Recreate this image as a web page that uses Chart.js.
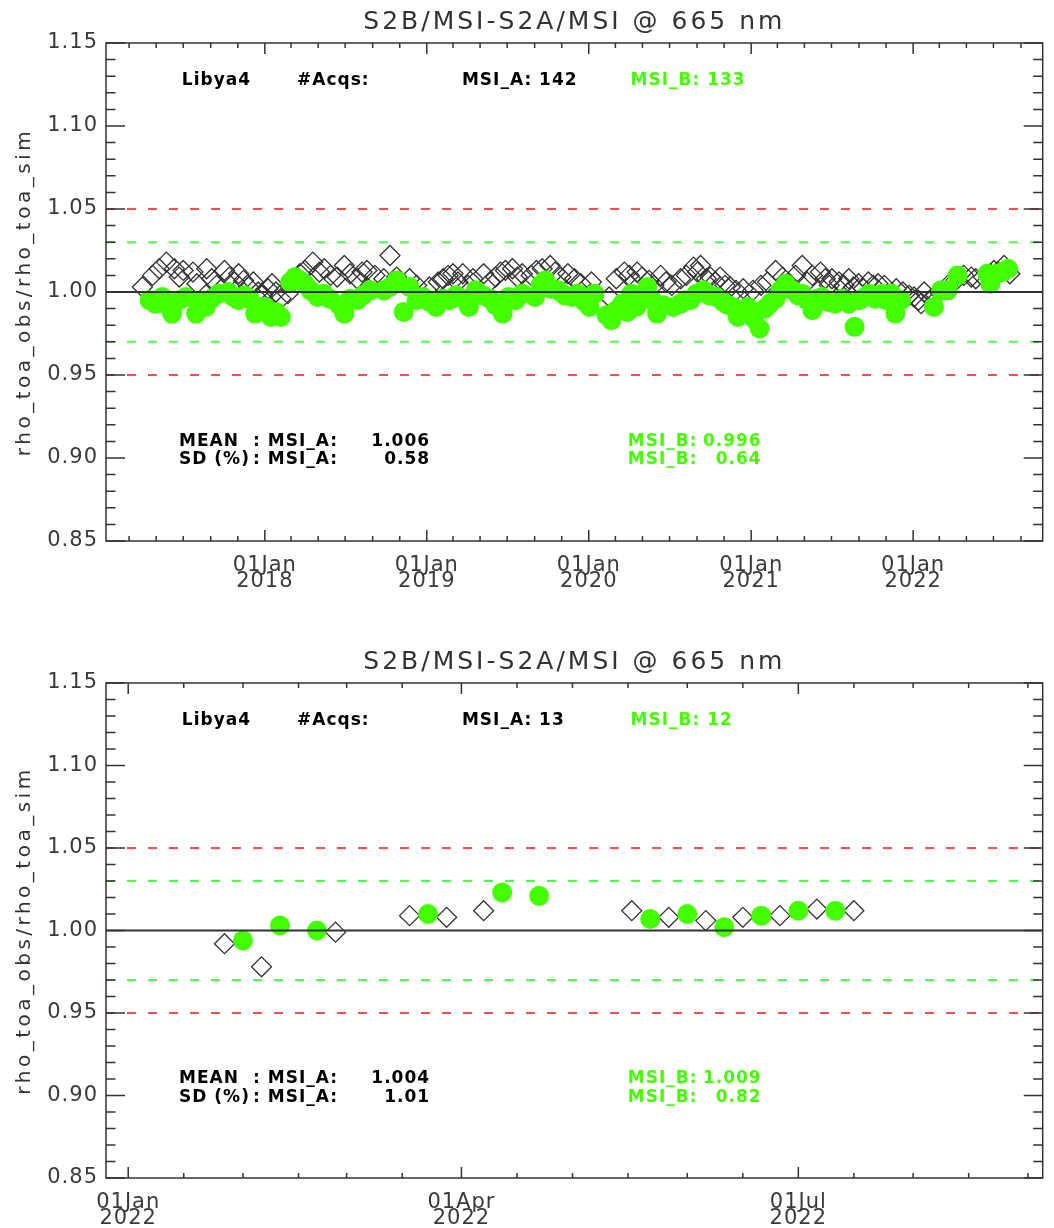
<!DOCTYPE html>
<html>
<head>
<meta charset="utf-8">
<title>S2B/MSI-S2A/MSI @ 665 nm - Libya4</title>
<script src="https://cdn.jsdelivr.net/npm/chart.js@4.4.1/dist/chart.umd.min.js"></script>
<style>
  html, body { margin: 0; padding: 0; background: #fff; }
  canvas { display: block; }
</style>
</head>
<body>
<canvas id="fullChart" width="1054" height="640"></canvas>
<canvas id="recentChart" width="1054" height="588"></canvas>
<script>
// ---- common plot settings ----
var plotTitle = 'S2B/MSI-S2A/MSI @ 665 nm';
var yAxisTitle = 'rho_toa_obs/rho_toa_sim';
var siteName = 'Libya4';
var yTickValues = [0.85, 0.90, 0.95, 1.00, 1.05, 1.10, 1.15];
var unityLevel = 1.00;
var innerLimits = [0.97, 1.03];
var outerLimits = [0.95, 1.05];

// ---- full mission period ----
var fullRange = ['2017-01-08', '2022-10-20'];
var fullMajorTicks = ['2018-01-01', '2019-01-01', '2020-01-01', '2021-01-01', '2022-01-01'];
var fullMean = ['1.006', '0.996'];
var fullSd = ['0.58', '0.64'];

var fullADates = [
  '2017-03-31', '2017-04-23', '2017-05-08', '2017-05-24', '2017-06-11', '2017-06-22', '2017-07-01', '2017-07-23',
  '2017-08-01', '2017-08-23', '2017-09-03', '2017-09-14', '2017-10-02', '2017-10-13', '2017-10-25', '2017-11-03',
  '2017-11-14', '2017-11-25', '2017-12-06', '2017-12-17', '2017-12-26', '2018-01-08', '2018-01-17', '2018-01-26',
  '2018-02-06', '2018-02-22', '2018-03-07', '2018-03-21', '2018-04-01', '2018-04-19', '2018-05-04', '2018-05-15',
  '2018-05-29', '2018-06-13', '2018-06-29', '2018-07-12', '2018-07-28', '2018-08-08', '2018-08-19', '2018-09-06',
  '2018-09-26', '2018-10-10', '2018-10-25', '2018-11-23', '2018-12-09', '2019-01-07', '2019-01-27', '2019-02-07',
  '2019-02-18', '2019-03-01', '2019-03-12', '2019-03-23', '2019-04-04', '2019-04-15', '2019-05-09', '2019-05-23',
  '2019-06-05', '2019-06-16', '2019-06-27', '2019-07-13', '2019-07-24', '2019-08-04', '2019-08-24', '2019-09-05',
  '2019-09-18', '2019-10-06', '2019-10-17', '2019-10-30', '2019-11-15', '2019-11-30', '2019-12-14', '2020-01-07',
  '2020-02-16', '2020-03-03', '2020-03-21', '2020-04-01', '2020-04-12', '2020-04-19', '2020-04-30', '2020-05-16',
  '2020-05-27', '2020-06-11', '2020-06-23', '2020-07-06', '2020-07-26', '2020-08-08', '2020-08-24', '2020-09-02',
  '2020-09-09', '2020-09-22', '2020-10-01', '2020-10-12', '2020-10-23', '2020-11-03', '2020-11-15', '2020-11-28',
  '2020-12-14', '2021-01-05', '2021-01-23', '2021-02-07', '2021-02-25', '2021-03-13', '2021-03-28', '2021-04-11',
  '2021-04-26', '2021-05-07', '2021-05-19', '2021-06-06', '2021-06-17', '2021-06-26', '2021-07-02', '2021-07-18',
  '2021-07-29', '2021-08-09', '2021-08-20', '2021-08-31', '2021-09-11', '2021-09-22', '2021-10-03', '2021-10-14',
  '2021-10-28', '2021-11-24', '2021-12-09', '2021-12-23', '2022-01-03', '2022-01-13', '2022-01-19', '2022-01-26',
  '2022-02-11', '2022-02-21', '2022-03-01', '2022-03-20', '2022-04-07', '2022-04-25', '2022-05-12', '2022-05-22',
  '2022-06-08', '2022-06-24', '2022-07-02', '2022-07-12', '2022-07-25', '2022-08-07'
];
var fullAValues = [
  1.003, 1.010, 1.014, 1.018, 1.014, 1.009, 1.013, 1.012,
  1.005, 1.014, 1.008, 1.004, 1.013, 1.009, 1.006, 1.011,
  1.007, 1.003, 1.006, 1.000, 0.998, 1.002, 1.005, 1.000,
  0.996, 0.999, 1.008, 1.011, 1.013, 1.018, 1.012, 1.014,
  1.010, 1.009, 1.016, 1.011, 1.008, 1.012, 1.013, 1.010,
  1.008, 1.022, 1.009, 1.008, 1.004, 1.003, 1.006, 1.008,
  1.010, 1.011, 1.006, 1.011, 1.004, 1.008, 1.011, 1.006,
  1.009, 1.012, 1.013, 1.014, 1.009, 1.011, 1.010, 1.013,
  1.014, 1.016, 1.012, 1.009, 1.011, 1.008, 1.005, 1.006,
  0.997, 1.008, 1.012, 1.010, 1.006, 1.012, 1.009, 1.007,
  1.004, 1.010, 1.006, 1.004, 1.008, 1.010, 1.015, 1.012,
  1.016, 1.008, 1.009, 1.006, 1.009, 1.004, 1.003, 1.001,
  1.002, 1.001, 1.004, 1.006, 1.013, 1.009, 1.005, 1.010,
  1.016, 1.006, 1.010, 1.012, 1.008, 1.004, 1.008, 1.006,
  1.004, 1.008, 1.003, 1.005, 1.002, 1.006, 1.004, 1.005,
  1.004, 1.002, 1.000, 0.998, 0.997, 0.995, 0.993, 1.000,
  0.996, 0.998, 1.000, 1.004, 1.007, 1.010, 1.009, 1.008,
  1.009, 1.011, 1.013, 1.012, 1.016, 1.011
];

var fullBDates = [
  '2017-04-16', '2017-04-29', '2017-05-15', '2017-05-26', '2017-06-06', '2017-06-22', '2017-07-07', '2017-07-30',
  '2017-08-10', '2017-08-21', '2017-09-03', '2017-09-19', '2017-10-11', '2017-10-22', '2017-11-03', '2017-11-16',
  '2017-11-27', '2017-12-10', '2017-12-22', '2018-01-02', '2018-01-15', '2018-01-26', '2018-02-06', '2018-02-27',
  '2018-03-10', '2018-03-21', '2018-04-01', '2018-04-14', '2018-04-30', '2018-05-13', '2018-05-27', '2018-06-18',
  '2018-06-29', '2018-07-12', '2018-07-28', '2018-08-10', '2018-08-26', '2018-09-26', '2018-10-10', '2018-10-25',
  '2018-11-10', '2018-11-23', '2018-12-09', '2018-12-24', '2019-01-07', '2019-01-22', '2019-02-07', '2019-02-21',
  '2019-03-08', '2019-03-23', '2019-04-06', '2019-04-21', '2019-05-07', '2019-05-23', '2019-06-05', '2019-06-21',
  '2019-07-04', '2019-07-20', '2019-08-04', '2019-09-02', '2019-09-14', '2019-09-25', '2019-10-08', '2019-10-24',
  '2019-11-08', '2019-11-24', '2019-12-07', '2019-12-23', '2020-01-03', '2020-01-14', '2020-02-10', '2020-02-21',
  '2020-03-03', '2020-03-17', '2020-03-28', '2020-04-06', '2020-04-17', '2020-04-30', '2020-05-12', '2020-05-23',
  '2020-06-03', '2020-06-18', '2020-07-10', '2020-07-26', '2020-08-06', '2020-08-17', '2020-08-31', '2020-09-15',
  '2020-09-29', '2020-10-14', '2020-10-30', '2020-11-10', '2020-11-21', '2020-12-02', '2020-12-13', '2020-12-25',
  '2021-01-07', '2021-01-20', '2021-02-01', '2021-02-12', '2021-02-25', '2021-03-08', '2021-03-20', '2021-04-04',
  '2021-04-17', '2021-04-26', '2021-05-07', '2021-05-19', '2021-05-30', '2021-06-10', '2021-06-23', '2021-07-09',
  '2021-07-24', '2021-08-09', '2021-08-22', '2021-09-02', '2021-09-14', '2021-09-25', '2021-10-08', '2021-10-22',
  '2021-11-02', '2021-11-13', '2021-11-22', '2021-12-05', '2022-02-17', '2022-03-05', '2022-03-20', '2022-04-11',
  '2022-06-17', '2022-06-24', '2022-07-09', '2022-07-21', '2022-08-03'
];
var fullBValues = [
  0.995, 0.993, 0.997, 0.992, 0.987, 0.995, 0.997, 0.987,
  0.994, 0.991, 0.996, 0.999, 1.000, 0.997, 0.995, 0.998,
  0.996, 0.987, 0.991, 0.991, 0.985, 0.988, 0.985, 1.006,
  1.009, 1.007, 1.005, 1.001, 0.997, 0.999, 0.996, 0.992,
  0.987, 0.996, 0.995, 0.998, 1.001, 1.001, 1.003, 1.007,
  0.988, 1.003, 0.995, 0.997, 0.994, 0.991, 0.996, 0.995,
  0.998, 0.996, 0.991, 1.001, 0.998, 0.996, 0.992, 0.987,
  0.997, 0.995, 0.999, 0.997, 1.004, 1.007, 1.002, 1.001,
  0.998, 0.997, 0.999, 0.994, 0.991, 0.999, 0.986, 0.983,
  0.989, 0.993, 0.988, 0.999, 0.991, 0.996, 1.003, 0.995,
  0.987, 0.992, 0.991, 0.993, 0.995, 0.995, 0.999, 1.001,
  0.998, 0.997, 0.994, 0.992, 0.991, 0.985, 0.989, 0.991,
  0.984, 0.978, 0.990, 0.993, 0.996, 1.001, 1.005, 1.001,
  0.998, 0.999, 0.995, 0.989, 0.996, 0.997, 0.994, 0.993,
  0.996, 0.993, 0.979, 0.995, 0.997, 0.999, 0.996, 0.999,
  0.995, 0.999, 0.987, 0.995, 0.991, 1.001, 1.001, 1.010,
  1.011, 1.005, 1.011, 1.012, 1.014
];

// ---- 2022 only ----
var recentRange = ['2021-12-26', '2022-09-05'];
var recentMajorTicks = ['2022-01-01', '2022-04-01', '2022-07-01'];
var recentMean = ['1.004', '1.009'];
var recentSd = ['1.01', '0.82'];

var recentADates = [
  '2022-01-27', '2022-02-06', '2022-02-26', '2022-03-18', '2022-03-28', '2022-04-07', '2022-05-17',
  '2022-05-27', '2022-06-06', '2022-06-16', '2022-06-26', '2022-07-06', '2022-07-16'
];
var recentAValues = [0.992, 0.978, 0.999, 1.009, 1.008, 1.012, 1.012, 1.008, 1.006, 1.008, 1.009, 1.013, 1.012];

var recentBDates = [
  '2022-02-01', '2022-02-11', '2022-02-21', '2022-03-23', '2022-04-12', '2022-04-22',
  '2022-05-22', '2022-06-01', '2022-06-11', '2022-06-21', '2022-07-01', '2022-07-11'
];
var recentBValues = [0.994, 1.003, 1.000, 1.010, 1.023, 1.021, 1.007, 1.010, 1.002, 1.009, 1.012, 1.012];

// ---- helpers ----
var MONTHS = ['Jan', 'Feb', 'Mar', 'Apr', 'May', 'Jun', 'Jul', 'Aug', 'Sep', 'Oct', 'Nov', 'Dec'];
var GREEN = '#44ff00';
var FONT = '"DejaVu Sans", "Liberation Sans", sans-serif';

function toDay(s) {
  return Date.UTC(+s.slice(0, 4), +s.slice(5, 7) - 1, +s.slice(8, 10)) / 86400000;
}

function dayLabel(day) {
  var d = new Date(Math.round(day) * 86400000);
  var dd = String(d.getUTCDate()).padStart(2, '0');
  return [dd + MONTHS[d.getUTCMonth()], String(d.getUTCFullYear())];
}

function points(dates, values) {
  return dates.map(function (d, i) { return { x: toDay(d), y: values[i] }; });
}

// minor x ticks: every `step` months on the given days of month
function minorDays(range, step, daysOfMonth) {
  var out = [];
  var lo = toDay(range[0]), hi = toDay(range[1]);
  var y = +range[0].slice(0, 4) - 1;
  for (; y <= +range[1].slice(0, 4); y++) {
    for (var m = 0; m < 12; m += step) {
      daysOfMonth.forEach(function (dm) {
        var v = Date.UTC(y, m, dm) / 86400000;
        if (v > lo && v < hi) out.push(v);
      });
    }
  }
  return out;
}

function hLine(range, level, color, dash) {
  return {
    type: 'line',
    data: [{ x: toDay(range[0]), y: level }, { x: toDay(range[1]), y: level }],
    borderColor: color,
    borderWidth: 2,
    borderDash: dash,
    pointRadius: 0,
    order: 0
  };
}

// IDL style box: frame with inward ticks on all four sides, plus the text blocks
function idlBox(cfg) {
  return {
    id: 'idlBox',
    beforeDraw: function (chart) {
      chart.ctx.letterSpacing = '1px';
    },
    beforeDatasetsDraw: function (chart) {
      chart.ctx.letterSpacing = '0px';
    },
    afterDraw: function (chart) {
      var ctx = chart.ctx;
      var a = chart.chartArea;
      var xs = chart.scales.x, ys = chart.scales.y;
      var w = a.right - a.left;

      ctx.save();
      ctx.letterSpacing = '0px';
      ctx.strokeStyle = '#333';
      ctx.lineWidth = 1.5;
      ctx.strokeRect(a.left, a.top, w, a.bottom - a.top);

      ctx.beginPath();
      function xTick(v, len) {
        var px = xs.getPixelForValue(v);
        ctx.moveTo(px, a.bottom); ctx.lineTo(px, a.bottom - len);
        ctx.moveTo(px, a.top); ctx.lineTo(px, a.top + len);
      }
      cfg.major.forEach(function (v) { xTick(v, 11); });
      cfg.minor.forEach(function (v) { xTick(v, 5); });
      for (var i = 85; i <= 115; i++) {
        var py = ys.getPixelForValue(i / 100);
        var len = i % 5 === 0 ? 19 : 9.5;
        ctx.moveTo(a.left, py); ctx.lineTo(a.left + len, py);
        ctx.moveTo(a.right, py); ctx.lineTo(a.right - len, py);
      }
      ctx.stroke();

      // plot title
      ctx.fillStyle = '#333';
      ctx.textBaseline = 'middle';
      ctx.textAlign = 'center';
      ctx.font = '25px ' + FONT;
      ctx.letterSpacing = '3px';
      ctx.fillText(plotTitle, (a.left + a.right) / 2, a.top - 21);

      // y axis title
      ctx.save();
      ctx.font = '20px ' + FONT;
      ctx.letterSpacing = '3.5px';
      ctx.translate(25, (a.top + a.bottom) / 2);
      ctx.rotate(-Math.PI / 2);
      ctx.fillText(yAxisTitle, 0, 0);
      ctx.restore();

      // annotations
      ctx.font = 'bold 17px ' + FONT;
      ctx.letterSpacing = '1px';
      function put(text, frac, level, color, align) {
        ctx.fillStyle = color;
        ctx.textAlign = align || 'left';
        ctx.fillText(text, a.left + frac * w, ys.getPixelForValue(level));
      }
      put(siteName, 0.081, 1.1275, '#000');
      put('#Acqs:', 0.204, 1.1275, '#000');
      put('MSI_A: ' + cfg.countA, 0.380, 1.1275, '#000');
      put('MSI_B: ' + cfg.countB, 0.560, 1.1275, GREEN);

      put('MEAN', 0.078, 0.910, '#000');
      put('SD (%)', 0.078, 0.899, '#000');
      put(': MSI_A:', 0.157, 0.910, '#000');
      put(': MSI_A:', 0.157, 0.899, '#000');
      put(cfg.mean[0], 0.346, 0.910, '#000', 'right');
      put(cfg.sd[0], 0.346, 0.899, '#000', 'right');
      put('MSI_B:', 0.557, 0.910, GREEN);
      put('MSI_B:', 0.557, 0.899, GREEN);
      put(cfg.mean[1], 0.700, 0.910, GREEN, 'right');
      put(cfg.sd[1], 0.700, 0.899, GREEN, 'right');
      ctx.restore();
    }
  };
}

function makeChart(id, range, majorTicks, minor, aDates, aValues, bDates, bValues, mean, sd, plotBottom) {
  var canvas = document.getElementById(id);
  var major = majorTicks.map(toDay);
  var tickFont = { family: FONT, size: 21, lineHeight: 0.76 };

  return new Chart(canvas, {
    type: 'scatter',
    data: {
      datasets: [
        hLine(range, unityLevel, '#333', []),
        hLine(range, innerLimits[0], '#4dff4d', [9, 12]),
        hLine(range, innerLimits[1], '#4dff4d', [9, 12]),
        hLine(range, outerLimits[0], '#ff4d4d', [9, 12]),
        hLine(range, outerLimits[1], '#ff4d4d', [9, 12]),
        {
          label: 'MSI_B',
          data: points(bDates, bValues),
          pointStyle: 'circle',
          pointRadius: 10,
          backgroundColor: GREEN,
          borderColor: GREEN,
          borderWidth: 0,
          order: 1
        },
        {
          label: 'MSI_A',
          data: points(aDates, aValues),
          pointStyle: 'rectRot',
          pointRadius: 10,
          backgroundColor: 'rgba(0,0,0,0)',
          borderColor: '#333',
          borderWidth: 1.3,
          order: 2
        }
      ]
    },
    options: {
      responsive: false,
      animation: false,
      events: [],
      layout: { padding: { top: 43, right: 1, left: 0, bottom: 0 } },
      plugins: {
        legend: { display: false },
        tooltip: { enabled: false }
      },
      scales: {
        x: {
          type: 'linear',
          min: toDay(range[0]),
          max: toDay(range[1]),
          grid: { display: false, drawTicks: false },
          border: { display: false },
          afterBuildTicks: function (axis) {
            axis.ticks = major.map(function (v) { return { value: v }; });
          },
          afterFit: function (axis) { axis.height = canvas.height - plotBottom; },
          ticks: {
            autoSkip: false,
            maxRotation: 0,
            padding: 17,
            color: '#3a3a3a',
            font: tickFont,
            callback: function (v) { return dayLabel(v); }
          }
        },
        y: {
          min: 0.85,
          max: 1.15,
          grid: { display: false, drawTicks: false },
          border: { display: false },
          afterBuildTicks: function (axis) {
            axis.ticks = yTickValues.map(function (v) { return { value: v }; });
          },
          afterFit: function (axis) { axis.width = 106; },
          ticks: {
            padding: 8,
            color: '#3a3a3a',
            font: { family: FONT, size: 21 },
            callback: function (v) { return v.toFixed(2); }
          }
        }
      }
    },
    plugins: [idlBox({
      major: major,
      minor: minor,
      countA: aDates.length,
      countB: bDates.length,
      mean: mean,
      sd: sd
    })]
  });
}

makeChart('fullChart', fullRange, fullMajorTicks, minorDays(fullRange, 2, [1]),
  fullADates, fullAValues, fullBDates, fullBValues, fullMean, fullSd, 541);

makeChart('recentChart', recentRange, recentMajorTicks, minorDays(recentRange, 1, [1, 16]),
  recentADates, recentAValues, recentBDates, recentBValues, recentMean, recentSd, 538);
</script>
</body>
</html>
